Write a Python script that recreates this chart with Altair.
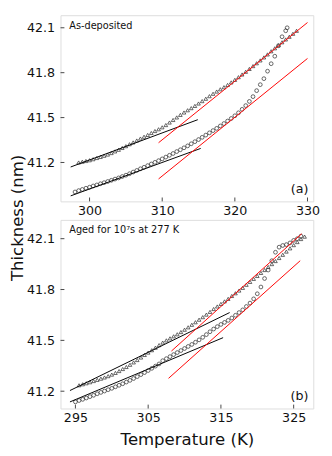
import altair as alt
import pandas as pd

FONT = "DejaVu Sans"

# ---------------- Panel (a): As-deposited ----------------
a_tri_T = [298.5, 299.0, 299.5, 300.0, 300.5, 301.0, 301.5, 302.0, 302.5, 303.0,
           303.5, 304.0, 304.5, 305.0, 305.5, 306.0, 306.5, 307.0, 307.5, 308.0,
           308.5, 309.0, 309.5, 310.0, 310.5, 311.0, 311.5, 312.0, 312.5, 313.0,
           313.5, 314.0, 314.5, 315.0, 315.5, 316.0, 316.5, 317.0, 317.5, 318.0,
           318.5, 319.0, 319.5, 320.0, 320.5, 321.0, 321.5, 322.0, 322.5, 323.0,
           323.5, 324.0, 324.5, 325.0, 325.5, 326.0, 326.5, 327.0, 327.5, 328.0,
           328.5]
a_tri_v = [41.200, 41.205, 41.210, 41.215, 41.222, 41.230, 41.237, 41.245, 41.253, 41.263,
           41.274, 41.285, 41.297, 41.309, 41.322, 41.334, 41.347, 41.360, 41.372, 41.384,
           41.397, 41.410, 41.422, 41.435, 41.450, 41.467, 41.484, 41.501, 41.518, 41.534,
           41.549, 41.563, 41.578, 41.594, 41.610, 41.626, 41.643, 41.659, 41.674, 41.689,
           41.703, 41.718, 41.735, 41.752, 41.770, 41.788, 41.806, 41.825, 41.844, 41.863,
           41.882, 41.902, 41.922, 41.943, 41.963, 41.983, 42.003, 42.022, 42.040, 42.060,
           42.080]

a_cir_T = [298.0, 298.5, 299.0, 299.5, 300.0, 300.5, 301.0, 301.5, 302.0, 302.5,
           303.0, 303.5, 304.0, 304.5, 305.0, 305.5, 306.0, 306.5, 307.0, 307.5,
           308.0, 308.5, 309.0, 309.5, 310.0, 310.5, 311.0, 311.5, 312.0, 312.5,
           313.0, 313.5, 314.0, 314.5, 315.0, 315.5, 316.0, 316.5, 317.0, 317.5,
           318.0, 318.5, 319.0, 319.5, 320.0, 320.5, 321.0, 321.5, 322.0, 322.5,
           323.0, 323.5, 324.0, 324.5, 325.0, 325.5, 326.0, 326.5, 327.0, 327.2]
a_cir_v = [41.003, 41.012, 41.020, 41.028, 41.035, 41.043, 41.050, 41.058, 41.065, 41.073,
           41.081, 41.089, 41.097, 41.106, 41.115, 41.125, 41.136, 41.147, 41.158, 41.168,
           41.179, 41.190, 41.201, 41.212, 41.224, 41.236, 41.248, 41.260, 41.273, 41.285,
           41.298, 41.311, 41.325, 41.339, 41.353, 41.368, 41.383, 41.398, 41.413, 41.428,
           41.444, 41.460, 41.477, 41.494, 41.512, 41.532, 41.555, 41.580, 41.608, 41.640,
           41.680, 41.720, 41.760, 41.810, 41.860, 41.910, 41.980, 42.040, 42.080, 42.100]

# fit lines (a): T1, v1, T2, v2, colour
a_fit_T1 = [297.4, 297.4, 309.5, 309.5]
a_fit_v1 = [41.170, 40.977, 41.332, 41.090]
a_fit_T2 = [314.9, 315.3, 330.0, 330.0]
a_fit_v2 = [41.486, 41.294, 42.135, 41.895]
a_fit_c = ["black", "black", "red", "red"]

# ---------------- Panel (b): Aged ----------------
b_tri_T = [295.5, 296.0, 296.5, 297.0, 297.5, 298.0, 298.5, 299.0, 299.5, 300.0,
           300.5, 301.0, 301.5, 302.0, 302.5, 303.0, 303.5, 304.0, 304.5, 305.0,
           305.5, 306.0, 306.5, 307.0, 307.5, 308.0, 308.5, 309.0, 309.5, 310.0,
           310.5, 311.0, 311.5, 312.0, 312.5, 313.0, 313.5, 314.0, 314.5, 315.0,
           315.5, 316.0, 316.5, 317.0, 317.5, 318.0, 318.5, 319.0, 319.5, 320.0,
           320.5, 321.0, 321.5, 322.0, 322.5, 323.0, 323.5, 324.0, 324.5, 325.0,
           325.5, 326.0, 326.5]
b_tri_v = [41.235, 41.241, 41.247, 41.253, 41.260, 41.267, 41.274, 41.281, 41.289, 41.298,
           41.308, 41.319, 41.331, 41.343, 41.356, 41.370, 41.384, 41.399, 41.414, 41.428,
           41.442, 41.457, 41.472, 41.487, 41.500, 41.512, 41.524, 41.536, 41.549, 41.563,
           41.577, 41.592, 41.607, 41.622, 41.637, 41.652, 41.668, 41.685, 41.700, 41.715,
           41.730, 41.745, 41.762, 41.778, 41.794, 41.810, 41.828, 41.845, 41.863, 41.880,
           41.898, 41.915, 41.933, 41.950, 41.968, 41.986, 42.005, 42.024, 42.043, 42.062,
           42.080, 42.098, 42.112]

b_cir_T = [295.0, 295.5, 296.0, 296.5, 297.0, 297.5, 298.0, 298.5, 299.0, 299.5,
           300.0, 300.5, 301.0, 301.5, 302.0, 302.5, 303.0, 303.5, 304.0, 304.5,
           305.0, 305.5, 306.0, 306.5, 307.0, 307.5, 308.0, 308.5, 309.0, 309.5,
           310.0, 310.5, 311.0, 311.5, 312.0, 312.5, 313.0, 313.5, 314.0, 314.5,
           315.0, 315.5, 316.0, 316.5, 317.0, 317.5, 318.0, 318.5, 319.0, 319.5,
           320.0, 320.5, 321.0, 321.5, 322.0, 322.5, 323.0, 323.5, 324.0, 324.5,
           325.0, 325.5, 326.0]
b_cir_v = [41.137, 41.145, 41.152, 41.160, 41.168, 41.176, 41.185, 41.193, 41.201, 41.209,
           41.217, 41.226, 41.235, 41.244, 41.254, 41.264, 41.275, 41.286, 41.298, 41.310,
           41.322, 41.335, 41.348, 41.361, 41.380, 41.392, 41.404, 41.416, 41.428, 41.440,
           41.452, 41.464, 41.476, 41.489, 41.503, 41.518, 41.534, 41.551, 41.567, 41.581,
           41.594, 41.606, 41.618, 41.632, 41.648, 41.664, 41.680, 41.700, 41.720, 41.745,
           41.775, 41.815, 41.865, 41.915, 41.970, 42.020, 42.050, 42.060, 42.065, 42.075,
           42.090, 42.100, 42.115]

b_fit_T1 = [294.25, 294.25, 308.2, 307.8]
b_fit_v1 = [41.204, 41.137, 41.437, 41.276]
b_fit_T2 = [316.2, 315.3, 326.1, 325.9]
b_fit_v2 = [41.664, 41.516, 42.129, 41.970]
b_fit_c = ["black", "black", "red", "red"]

a_xticks = [300, 310, 320, 330]
b_xticks = [295, 305, 315, 325]
yticks = [41.2, 41.5, 41.8, 42.1]

W = 260
HA = 191.5
HB = 194
MK = "#333333"


def panel(tri_T, tri_v, cir_T, cir_v, f1, g1, f2, g2, fc, xdom, ydom, xticks,
          H, note, tag, xtitle, ytitle):
    xs = alt.Scale(domain=xdom, nice=False, zero=False)
    ys = alt.Scale(domain=ydom, nice=False, zero=False)
    xaxis_kw = dict(values=xticks, format="d", ticks=False, domain=False, grid=False,
                    labelFontSize=13, labelFont=FONT, labelColor="#111",
                    labelPadding=3, labelFlush=False)
    if xtitle:
        xaxis = alt.Axis(title=xtitle, titleFontSize=17, titleFont=FONT,
                         titleFontWeight="normal", titleColor="#111",
                         titlePadding=8, **xaxis_kw)
    else:
        xaxis = alt.Axis(title=None, **xaxis_kw)
    yaxis_kw = dict(values=yticks, format=".1f", ticks=False, domain=False, grid=False,
                    labelFontSize=13, labelFont=FONT, labelColor="#111",
                    labelPadding=6, labelFlush=False)
    if ytitle:
        yaxis = alt.Axis(title=ytitle, titleFontSize=17, titleFont=FONT,
                         titleFontWeight="normal", titleColor="#111",
                         titleAngle=270, titleAlign="center", titleBaseline="middle",
                         titleX=-44, titleY=208, **yaxis_kw)
    else:
        yaxis = alt.Axis(title=None, **yaxis_kw)

    tri = alt.Chart(pd.DataFrame({"T": tri_T, "v": tri_v})).mark_point(
        shape="triangle-up", filled=False, size=14, stroke=MK, strokeWidth=0.75, opacity=1
    ).encode(x=alt.X("T:Q", scale=xs, axis=xaxis), y=alt.Y("v:Q", scale=ys, axis=yaxis))

    cir = alt.Chart(pd.DataFrame({"T": cir_T, "v": cir_v})).mark_point(
        shape="circle", filled=False, size=15, stroke=MK, strokeWidth=0.75, opacity=1
    ).encode(x="T:Q", y="v:Q")

    fits = alt.Chart(pd.DataFrame({"T": f1, "v": g1, "T2": f2, "v2": g2, "c": fc})).mark_rule(
        strokeWidth=1
    ).encode(x="T:Q", y="v:Q", x2="T2:Q", y2="v2:Q", color=alt.Color("c:N", scale=None))

    xt = alt.Chart(pd.DataFrame({"T": xticks})).mark_rule(color="#444", strokeWidth=1).encode(
        x="T:Q", y=alt.value(H), y2=alt.value(H - 4))
    yt = alt.Chart(pd.DataFrame({"v": yticks})).mark_rule(color="#444", strokeWidth=1).encode(
        y="v:Q", x=alt.value(0), x2=alt.value(4))

    nt = alt.Chart(pd.DataFrame({"s": [note]})).mark_text(
        align="left", baseline="middle", fontSize=10, font=FONT, color="#111"
    ).encode(x=alt.value(9), y=alt.value(11), text="s:N")
    tg = alt.Chart(pd.DataFrame({"s": [tag]})).mark_text(
        align="right", baseline="middle", fontSize=13, font=FONT, color="#111"
    ).encode(x=alt.value(W - 5), y=alt.value(H - 13), text="s:N")

    return alt.layer(tri, cir, fits, xt, yt, nt, tg).properties(width=W, height=H)


pa = panel(a_tri_T, a_tri_v, a_cir_T, a_cir_v, a_fit_T1, a_fit_v1, a_fit_T2, a_fit_v2,
           a_fit_c, [296.0, 330.8], [40.94, 42.184], a_xticks, HA,
           "As-deposited", "(a)", None, "Thickness (nm)")
pb = panel(b_tri_T, b_tri_v, b_cir_T, b_cir_v, b_fit_T1, b_fit_v1, b_fit_T2, b_fit_v2,
           b_fit_c, [292.95, 327.7], [41.098, 42.211], b_xticks, HB,
           "Aged for 10\u2077s at 277 K", "(b)", "Temperature (K)", None)

chart = alt.vconcat(pa, pb, spacing=18.5, bounds="flush").properties(
    padding={"left": 0, "top": 0, "right": 4, "bottom": 4}
).configure_view(stroke="#8a8a8a", strokeWidth=1).configure(background="white")

chart.save("out.html", embed_options={"renderer": "svg", "actions": False})
